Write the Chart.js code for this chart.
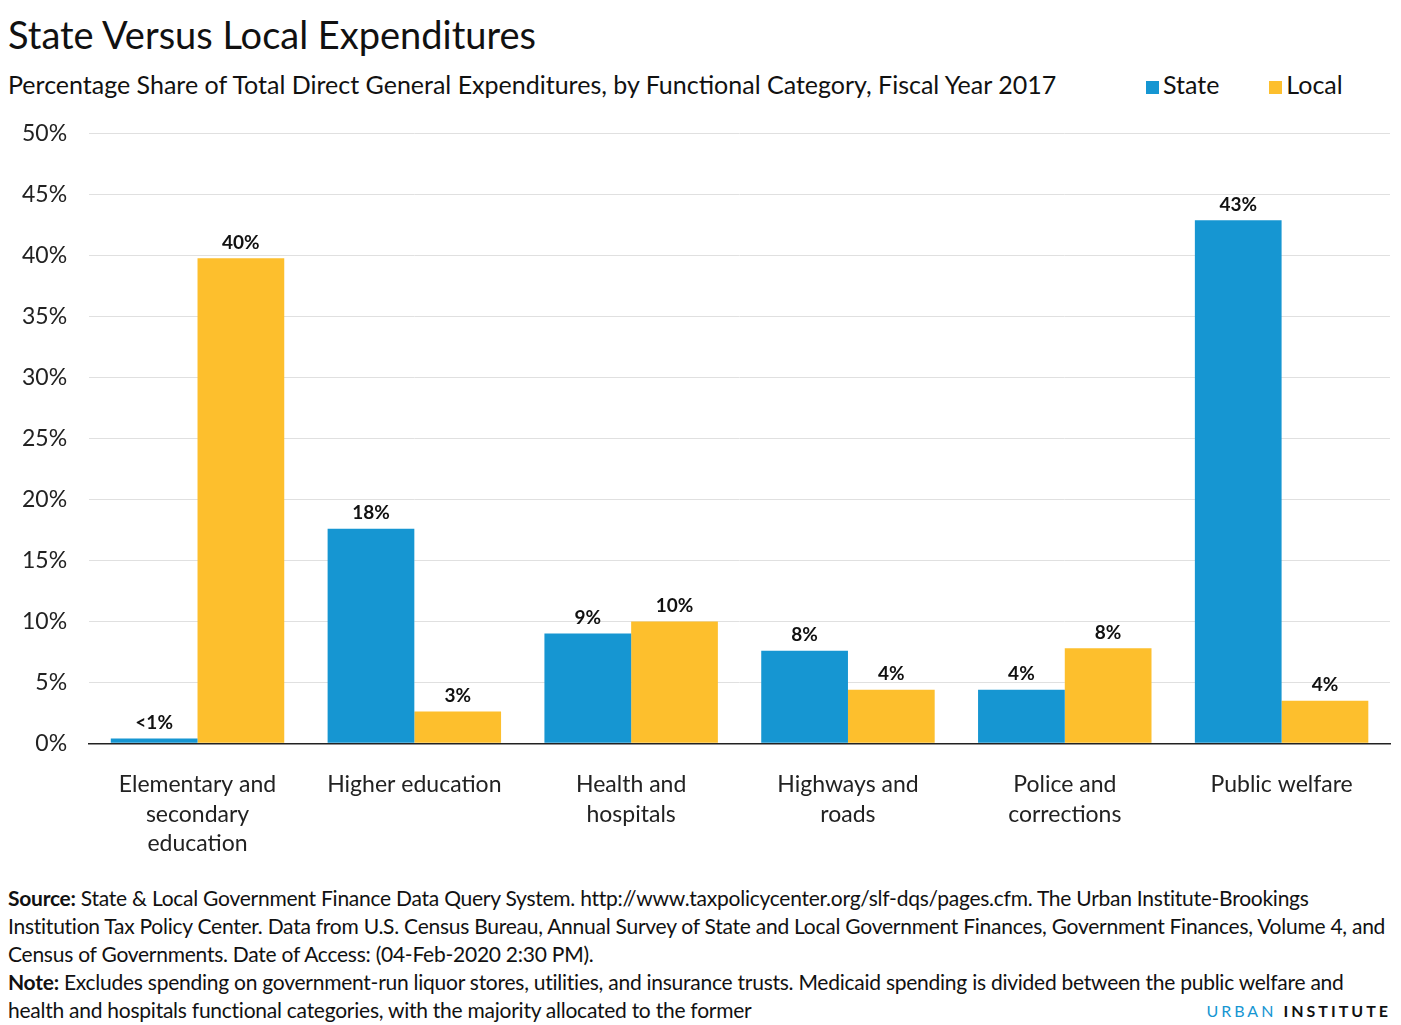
<!DOCTYPE html>
<html>
<head>
<meta charset="utf-8">
<script src="https://cdn.jsdelivr.net/npm/chart.js@4"></script>
<style>
  body { margin: 0; width: 1401px; height: 1025px; background: #fff; font-family: Lato, sans-serif; color: #111; position: relative; overflow: hidden; }
  #title { position: absolute; left: 8px; top: 11px; font-size: 38px; }
  #sub { position: absolute; left: 8px; top: 69px; font-size: 25px; }
  #legend { position: absolute; left: 1146px; top: 69px; font-size: 25px; }
  #legend span.sw { display: inline-block; width: 13px; height: 13px; margin-right: 4px; }
  #wrap { position: absolute; left: 0; top: 98px; width: 1401px; height: 779px; }
  #foot { position: absolute; left: 8px; top: 884px; font-size: 21px; line-height: 28px; letter-spacing: -0.25px; width: 1385px; }
  #logo { position: absolute; right: 10px; top: 1001px; font-size: 16px; letter-spacing: 3px; color: #1696d2; background: #fff; padding-left: 6px; line-height: 20px; }
</style>
</head>
<body>
<div id="title">State Versus Local Expenditures</div>
<div id="sub">Percentage Share of Total Direct General Expenditures, by Functional Category, Fiscal Year 2017</div>
<div id="legend"><span class="sw" style="background:#1696d2"></span>State<span style="display:inline-block;width:50px"></span><span class="sw" style="background:#fdbf2d"></span>Local</div>
<div id="wrap"><canvas id="myChart" width="1401" height="779"></canvas></div>
<div id="foot"><b>Source:</b> State &amp; Local Government Finance Data Query System. http://www.taxpolicycenter.org/slf-dqs/pages.cfm. The Urban Institute-Brookings Institution Tax Policy Center. Data from U.S. Census Bureau, Annual Survey of State and Local Government Finances, Government Finances, Volume 4, and Census of Governments. Date of Access: (04-Feb-2020 2:30 PM).<br><b>Note:</b> Excludes spending on government-run liquor stores, utilities, and insurance trusts. Medicaid spending is divided between the public welfare and health and hospitals functional categories, with the majority allocated to the former</div>
<div id="logo">URBAN <b style="color:#111">INSTITUTE</b></div>
<script>
const categories = [
    ['Elementary and', 'secondary', 'education'],
    'Higher education',
    ['Health and', 'hospitals'],
    ['Highways and', 'roads'],
    ['Police and', 'corrections'],
    'Public welfare'
];
const stateValues = [0.4, 17.6, 9.0, 7.6, 4.4, 42.9];
const localValues = [39.8, 2.6, 10.0, 4.4, 7.8, 3.5];
const stateLabels = ['<1%', '18%', '9%', '8%', '4%', '43%'];
const localLabels = ['40%', '3%', '10%', '4%', '8%', '4%'];

const barLabels = {
    id: 'barLabels',
    afterDatasetsDraw(chart) {
        const ctx = chart.ctx;
        ctx.save();
        ctx.font = 'bold 19px Lato';
        ctx.fillStyle = '#111';
        ctx.textAlign = 'center';
        ctx.textBaseline = 'bottom';
        chart.data.datasets.forEach((ds, i) => {
            chart.getDatasetMeta(i).data.forEach((bar, j) => {
                ctx.fillText(ds.valueLabels[j], bar.x, bar.y - 6);
            });
        });
        ctx.restore();
    }
};

new Chart(document.getElementById('myChart'), {
    type: 'bar',
    data: {
        labels: categories,
        datasets: [
            { label: 'State', data: stateValues, valueLabels: stateLabels, backgroundColor: '#1696d2', categoryPercentage: 0.8, barPercentage: 1 },
            { label: 'Local', data: localValues, valueLabels: localLabels, backgroundColor: '#fdbf2d', categoryPercentage: 0.8, barPercentage: 1 }
        ]
    },
    options: {
        responsive: false,
        animation: false,
        layout: { padding: { top: 21, right: 11, left: 0, bottom: 0 } },
        plugins: { legend: { display: false }, tooltip: { enabled: false } },
        scales: {
            y: {
                min: 0, max: 50,
                ticks: { stepSize: 5, callback: v => v + '%', font: { size: 23, family: 'Lato' }, color: '#222', padding: 22 },
                grid: { color: '#e0e0e0', drawTicks: false },
                border: { display: false }
            },
            x: {
                ticks: { font: { size: 23, family: 'Lato', lineHeight: 1.3 }, color: '#222', padding: 18 },
                grid: { display: false },
                border: { color: '#222', width: 1.5 }
            }
        }
    },
    plugins: [barLabels]
});
</script>
</body>
</html>
